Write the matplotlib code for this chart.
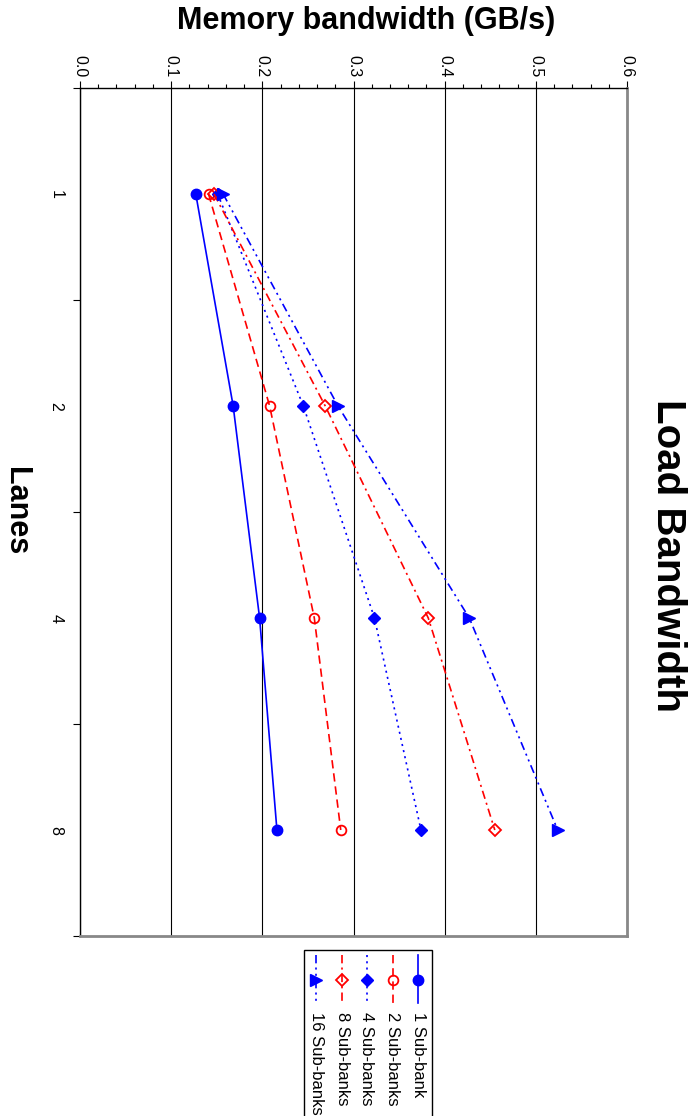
import numpy as np
import matplotlib
matplotlib.use('Agg')
import matplotlib.pyplot as plt
from matplotlib.lines import Line2D
from matplotlib.patches import Rectangle

# ---- data ----
lanes = ['1', '2', '4', '8']
series_names = ['1 Sub-bank', '2 Sub-banks', '4 Sub-banks', '8 Sub-banks', '16 Sub-banks']
bw_1 = [0.127, 0.168, 0.197, 0.216]
bw_2 = [0.141, 0.208, 0.257, 0.286]
bw_4 = [0.151, 0.245, 0.323, 0.374]
bw_8 = [0.147, 0.269, 0.382, 0.455]
bw_16 = [0.157, 0.283, 0.427, 0.524]
bw_ticks = [0.0, 0.1, 0.2, 0.3, 0.4, 0.5, 0.6]
title = 'Load Bandwidth'
xlabel = 'Lanes'
ylabel = 'Memory bandwidth (GB/s)'

plt.rcParams['font.family'] = ['Liberation Sans', 'DejaVu Sans']
plt.rcParams['lines.scale_dashes'] = False

W, H = 698, 1116
fig = plt.figure(figsize=(W / 100, H / 100), dpi=100)


def px(x0, y0, x1, y1):
    return [x0 / W, 1 - y1 / H, (x1 - x0) / W, (y1 - y0) / H]


BLUE = '#0000ff'
RED = '#ff0000'
styles = [
    dict(color=BLUE, ls='-', marker='o', ms=7.5, mfc=BLUE, mec=BLUE),
    dict(color=RED, ls=(0, (6, 3.5)), marker='o', ms=7, mfc='none', mec=RED, mew=1.3),
    dict(color=BLUE, ls=(0, (1.5, 3)), marker='D', ms=6, mfc=BLUE, mec=BLUE),
    dict(color=RED, ls=(0, (6, 3, 1.5, 3)), marker='D', ms=6, mfc='none', mec=RED, mew=1.3),
    dict(color=BLUE, ls=(0, (6, 3, 1.5, 3, 1.5, 3)), marker='>', ms=8, mfc=BLUE, mec=BLUE),
]
all_series = [bw_1, bw_2, bw_4, bw_8, bw_16]

ax = fig.add_axes(px(80, 88, 627, 936))
pos = np.arange(len(lanes)) + 0.5
for name, vals, st in zip(series_names, all_series, styles):
    ax.plot(vals, pos, lw=1.2, label=name, **st, zorder=3)

ax.set_xlim(0, 0.6)
ax.set_ylim(len(lanes), 0)

ax.xaxis.tick_top()
ax.set_xticks(bw_ticks)
ax.set_xticklabels([f'{v:.1f}' for v in bw_ticks])
ax.set_xticks(np.arange(0, 0.6001, 0.02), minor=True)
ax.tick_params(axis='x', which='major', direction='out', length=5, width=0.8,
               pad=3, labelsize=11.5, labelrotation=270)
ax.tick_params(axis='x', which='minor', direction='out', length=3, width=0.8)
for t in ax.get_xticklabels():
    t.set_ha('center')

ax.set_yticks(pos)
ax.set_yticklabels(lanes)
ax.set_yticks(np.arange(0, len(lanes) + 1), minor=True)
ax.tick_params(axis='y', which='major', length=0, pad=12, labelsize=11.5, labelrotation=270)
ax.tick_params(axis='y', which='minor', direction='out', length=5, width=0.8)
for t in ax.get_yticklabels():
    t.set_va('center')

ax.grid(axis='x', which='major', color='black', lw=0.8, zorder=1)
ax.set_axisbelow(True)
for s in ['left', 'top']:
    ax.spines[s].set_color('black')
    ax.spines[s].set_linewidth(1.0)
for s in ['right', 'bottom']:
    ax.spines[s].set_color('#888888')
    ax.spines[s].set_linewidth(2.0)

# ---- texts (whole figure rotated 90 deg clockwise) ----
fig.text(366 / W, 1 - 21 / H, ylabel, fontsize=22, fontweight='bold',
         ha='center', va='center')
fig.text(16 / W, 1 - 511 / H, xlabel, fontsize=22, fontweight='bold',
         ha='center', va='center', rotation=270)
fig.text(668 / W, 1 - 556 / H, title, fontsize=29, fontweight='bold',
         ha='center', va='center', rotation=270)

# ---- legend (rotated) ----
lax = fig.add_axes([0, 0, 1, 1], facecolor='none')
lax.set_xlim(0, W)
lax.set_ylim(H, 0)
lax.axis('off')
lax.add_patch(Rectangle((304, 950), 128, 190, fill=True, facecolor='white',
                        edgecolor='black', lw=1.0, clip_on=False))
entry_x = [418, 393, 367, 342, 316]
for name, st, ex in zip(series_names, styles, entry_x):
    lax.add_line(Line2D([ex, ex], [955, 1003], lw=1.2, color=st['color'], ls=st['ls']))
    lax.add_line(Line2D([ex], [980], ls='none', marker=st['marker'], ms=st['ms'],
                        mfc=st['mfc'], mec=st['mec'], mew=st.get('mew', 1.0)))
    lax.text(ex, 1012, name, fontsize=12, rotation=270, ha='center', va='top')

fig.savefig('out.png', dpi=100)
